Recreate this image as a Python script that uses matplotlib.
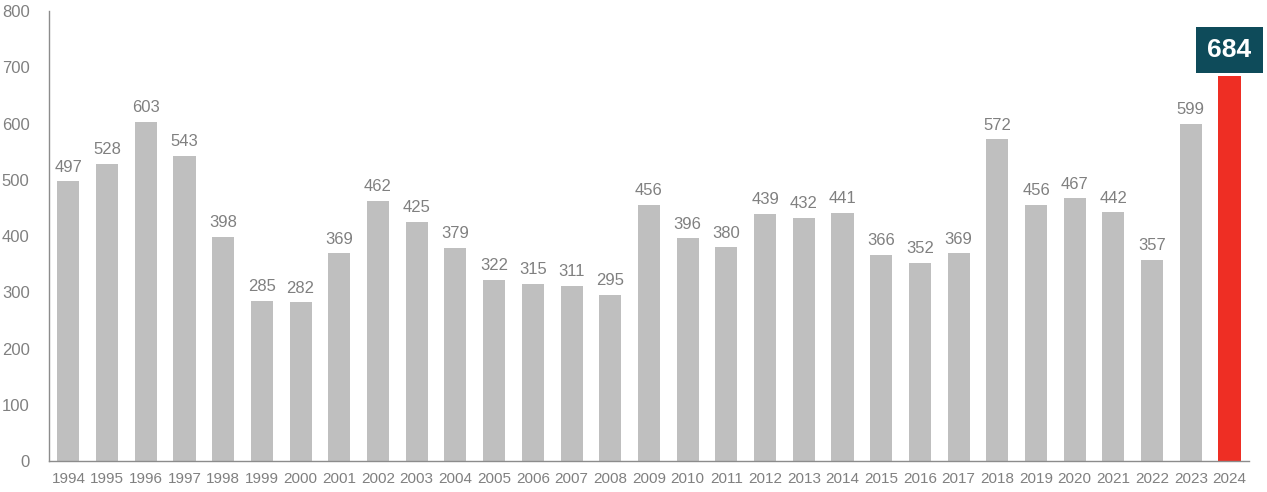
import matplotlib
matplotlib.use("Agg")
import matplotlib.pyplot as plt

years = [str(y) for y in range(1994, 2025)]
values = [497, 528, 603, 543, 398, 285, 282, 369, 462, 425, 379, 322, 315, 311, 295,
          456, 396, 380, 439, 432, 441, 366, 352, 369, 572, 456, 467, 442, 357, 599, 684]

GRAY = "#bfbfbf"
RED = "#ee2e24"
TEAL = "#0e4b5a"
TXT = "#808080"

plt.rcParams["font.family"] = ["Liberation Sans", "DejaVu Sans"]

fig = plt.figure(figsize=(12.67, 4.92), dpi=100)
ax = fig.add_axes([0.0387, 0.063, 0.947, 0.9146])

x = list(range(len(years)))
colors = [GRAY] * (len(years) - 1) + [RED]
ax.bar(x, values, width=0.57, color=colors)

for xi, v in zip(x[:-1], values[:-1]):
    ax.text(xi, v + 12, str(v), ha="center", va="bottom", fontsize=12, color=TXT)

# highlighted latest value
ax.text(x[-1], values[-1] + 46, str(values[-1]), ha="center", va="center",
        fontsize=19, fontweight="bold", color="white",
        bbox=dict(boxstyle="square,pad=0.42", fc=TEAL, ec="none"))

ax.set_xlim(-0.5, len(years) - 0.5)
ax.set_ylim(0, 800)
ax.set_yticks(range(0, 801, 100))
ax.set_xticks(x)
ax.set_xticklabels(years)
ax.tick_params(axis="both", length=0, colors=TXT, labelsize=12)
ax.tick_params(axis="x", labelsize=11, pad=8)
ax.tick_params(axis="y", pad=14)
for s in ["top", "right"]:
    ax.spines[s].set_visible(False)
for s in ["left", "bottom"]:
    ax.spines[s].set_color("#8c8c8c")
    ax.spines[s].set_linewidth(1)

fig.savefig("out.png", dpi=100)
